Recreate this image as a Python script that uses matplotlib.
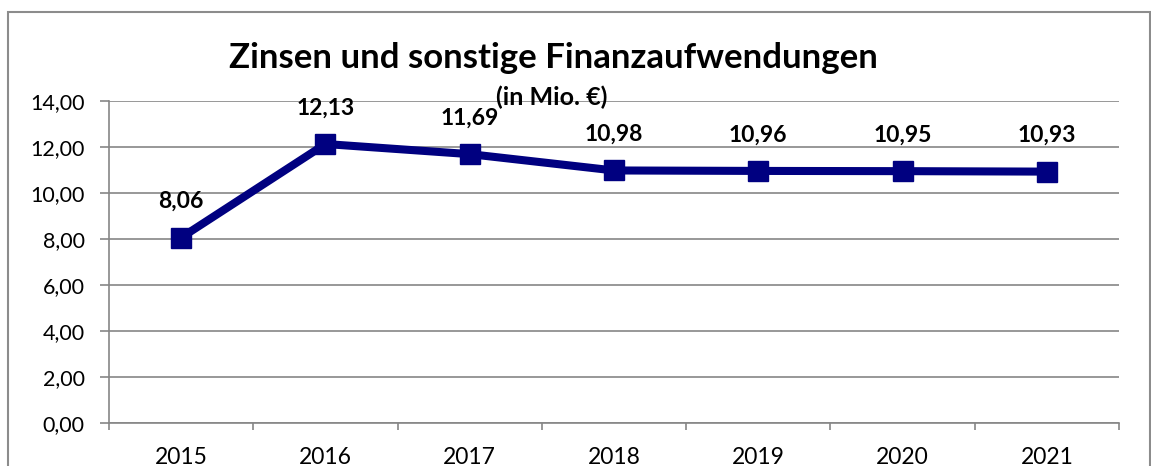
import numpy as np
import matplotlib
matplotlib.use('Agg')
import matplotlib.pyplot as plt
from matplotlib.patches import Rectangle
from matplotlib.ticker import FuncFormatter

years = ['2015', '2016', '2017', '2018', '2019', '2020', '2021']
values = [8.06, 12.13, 11.69, 10.98, 10.96, 10.95, 10.93]
y_ticks = [0, 2, 4, 6, 8, 10, 12, 14]

title = 'Zinsen und sonstige Finanzaufwendungen'
subtitle = '(in Mio. €)'

LINE = '#000080'
GRID = '#868686'

plt.rcParams['font.family'] = ['Lato', 'DejaVu Sans']

fig = plt.figure(figsize=(11.51, 4.66), dpi=100)
fig.patch.set_facecolor('white')

# outer chart frame
fig.patches.append(Rectangle((8 / 1151, -0.05), (1150 - 8) / 1151, 1.05 - 12 / 466,
                             transform=fig.transFigure, fill=False,
                             edgecolor='#8c8c8c', linewidth=1.5))

ax = fig.add_axes([109 / 1151, 1 - 423 / 466, (1119 - 109) / 1151, (423 - 101) / 466])

x = np.arange(len(years))
ax.plot(x, values, color=LINE, linewidth=5.8, marker='s', markersize=14,
        markerfacecolor=LINE, markeredgecolor=LINE, solid_joinstyle='miter', zorder=3)

for xi, v in zip(x, values):
    ax.annotate(f'{v:.2f}'.replace('.', ','), (xi, v), xytext=(0, 26),
                textcoords='offset points', ha='center', va='center',
                fontsize=16.5, fontweight='bold', color='black', zorder=4)

ax.set_xlim(-0.5, len(years) - 0.5)
ax.set_ylim(0, 14)
ax.set_yticks(y_ticks)
ax.yaxis.set_major_formatter(FuncFormatter(lambda v, p: f'{v:.2f}'.replace('.', ',')))
ax.set_xticks(x)
ax.set_xticklabels(years)
ax.set_xticks(np.arange(-0.5, len(years)), minor=True)

ax.grid(axis='y', color=GRID, linewidth=1.2)
ax.set_axisbelow(True)
for s in ['top', 'right']:
    ax.spines[s].set_visible(False)
for s in ['left', 'bottom']:
    ax.spines[s].set_color(GRID)
    ax.spines[s].set_linewidth(1.2)

ax.tick_params(axis='y', length=6.5, width=1.2, color=GRID, labelsize=15.5, pad=11)
ax.tick_params(axis='x', which='major', length=0, labelsize=16.5, pad=17)
ax.tick_params(axis='x', which='minor', length=5, width=1.2, color=GRID)

fig.text(553 / 1151, 1 - 58 / 466, title, ha='center', va='center',
         fontsize=25, fontweight='bold')
fig.text(552 / 1151, 1 - 97 / 466, subtitle, ha='center', va='center',
         fontsize=18, fontweight='bold')

fig.savefig('out.png', dpi=100)
